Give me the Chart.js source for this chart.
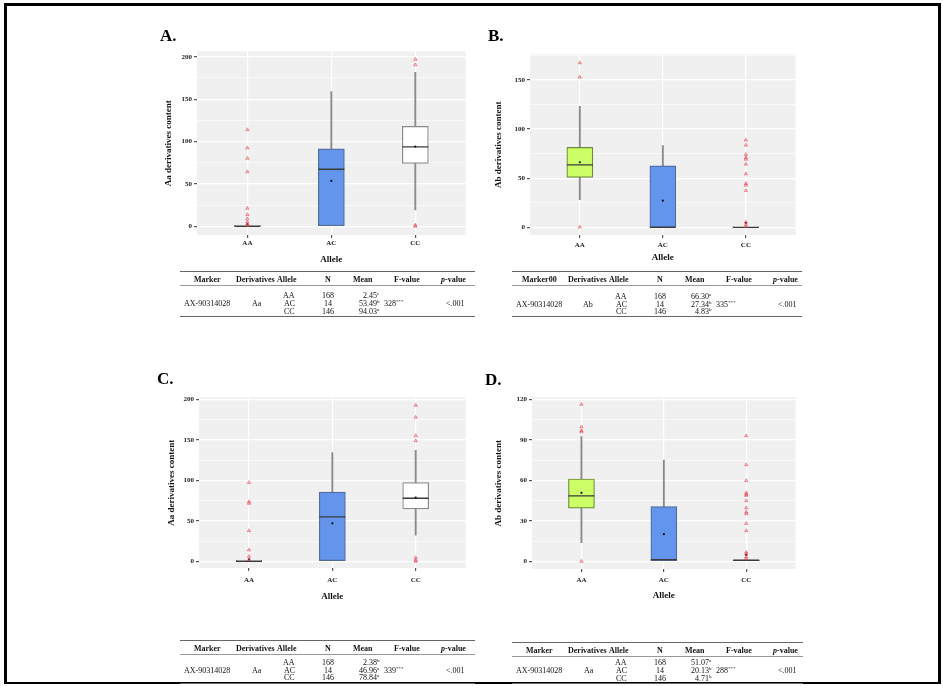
<!DOCTYPE html>
<html>
<head>
<meta charset="utf-8">
<script src="https://cdn.jsdelivr.net/npm/chart.js@4.4.1/dist/chart.umd.min.js"></script>
<style>
  body { margin: 0; background: #fff; font-family: "Liberation Serif", "Times New Roman", serif; }
  #page { position: relative; width: 943px; height: 686px; overflow: hidden; }
  #frame { position: absolute; left: 4px; top: 3px; width: 931px; height: 676px; border: 3px solid #000; border-bottom-width: 2px; }
  .wrap { position: absolute; }
  .letter { position: absolute; font-weight: bold; font-size: 17px; line-height: 17px; color: #000; }
  .cell { position: absolute; font-size: 8px; line-height: 8px; white-space: nowrap; color: #111; will-change: transform; }
  .cell sup { font-size: 5px; position: relative; top: -1px; vertical-align: top; line-height: 5px; }
  .hline { position: absolute; height: 0; border-top: 1px solid #777; }
</style>
</head>
<body>
<div id="page">
  <div id="frame"></div>
</div>
<script>
// categories
const alleles = ["AA", "AC", "CC"];
const nCount = ["168", "14", "146"];

// panel A : Aa derivatives
const aQ1 = [0, 0, 74.2];
const aMed = [0, 67.3, 93.6];
const aQ3 = [1, 91.3, 117.9];
const aLow = [0, 0, 19.4];
const aHigh = [1, 159, 181.8];
const aMean = [2.45, 53.49, 94.03];
const aOut = [[114, 92.4, 80.2, 64.3, 21.3, 13.7, 8.7, 5, 2.3, 1], [], [197, 190.5, 1.2, 0]];
const aTicks = [0, 25, 50, 75, 100, 125, 150, 175, 200];

// panel B : Ab derivatives
const bQ1 = [51, 0, 0];
const bMed = [63.7, 0.3, 0.3];
const bQ3 = [81.4, 62.7, 0.8];
const bLow = [28.4, 0, 0];
const bHigh = [123.1, 83.3, 0.8];
const bMean = [66.3, 27.34, 4.83];
const bOut = [[167.2, 152.6, 0.6], [], [88.8, 83.6, 74.1, 70.9, 69.3, 64.3, 54.5, 44.7, 43, 37.5, 5.5, 3.2, 1]];
const bTicks = [0, 25, 50, 75, 100, 125, 150, 175];

// panel C : Aa derivatives
const cQ1 = [0, 0, 64.8];
const cMed = [0, 54.9, 77.9];
const cQ3 = [1, 85.5, 97.4];
const cLow = [0, 0, 32.2];
const cHigh = [1, 134.4, 137.2];
const cMean = [2.38, 46.96, 78.84];
const cOut = [[97.4, 73.6, 71.6, 37.8, 14, 6, 2], [], [192.9, 178.1, 155.4, 149.1, 4.4, 1.2, 0]];
const cTicks = [0, 25, 50, 75, 100, 125, 150, 175, 200];

// panel D : Ab derivatives
const dQ1 = [39.4, 0, 0];
const dMed = [48.5, 1.2, 0.8];
const dQ3 = [61.1, 40.6, 1];
const dLow = [13.8, 0, 0];
const dHigh = [92.6, 75.2, 1];
const dMean = [50.8, 20.13, 4.71];
const dOut = [[116.5, 99.7, 96.9, 96.2, 0], [], [93.1, 71.6, 59.9, 50.8, 49.6, 48.9, 44.9, 39.6, 36.5, 35.3, 28.1, 22.7, 6.7, 5.5, 3.1, 1.9]];
const dTicks = [0, 15, 30, 45, 60, 75, 90, 105, 120];

// table texts
const tblHeadA = ["Marker", "Derivatives", "Allele", "N", "Mean", "F-value", "p-value"];
const tblHeadB = ["Marker00", "Derivatives", "Allele", "N", "Mean", "F-value", "p-value"];
const meansA = ["2.45", "53.49", "94.03"], supA = ["c", "b", "a"];
const meansB = ["66.30", "27.34", "4.83"], supB = ["a", "b", "b"];
const meansC = ["2.38", "46.96", "78.84"], supC = ["b", "a", "a"];
const meansD = ["51.07", "20.13", "4.71"], supD = ["a", "b", "b"];

const serif = "'Liberation Serif', 'Times New Roman', serif";
const page = document.getElementById("page");

const bgPlugin = {
  id: "panelBg",
  beforeDraw(chart) {
    const a = chart.chartArea, ctx = chart.ctx;
    ctx.save();
    ctx.fillStyle = "#f0f0f0";
    ctx.fillRect(a.left, a.top, a.right - a.left, a.bottom - a.top);
    ctx.restore();
  }
};

function makePanel(p) {
  const cl = p.area[0] - 50, ct = p.area[1] - 8, cr = p.area[2] + 2, cb = p.area[3] + 36;
  const wrap = document.createElement("div");
  wrap.className = "wrap";
  wrap.style.left = cl + "px"; wrap.style.top = ct + "px";
  const cv = document.createElement("canvas");
  cv.width = cr - cl; cv.height = cb - ct;
  cv.style.width = (cr - cl) + "px"; cv.style.height = (cb - ct) + "px";
  wrap.appendChild(cv);
  page.appendChild(wrap);

  const lt = document.createElement("div");
  lt.className = "letter";
  lt.textContent = p.letter;
  lt.style.left = p.letterPos[0] + "px"; lt.style.top = p.letterPos[1] + "px";
  page.appendChild(lt);

  const idx = [0, 1, 2];
  const outPts = [];
  p.out.forEach((arr, i) => arr.forEach(v => outPts.push({ x: i, y: v })));

  new Chart(cv, {
    type: "bar",
    data: {
      datasets: [
        { type: "bar", data: idx.map(i => ({ x: i, y: [p.low[i], p.high[i]] })), barThickness: 1.2,
          backgroundColor: "#8a8a8a", borderWidth: 0, grouped: false, order: 5 },
        { type: "bar", data: idx.map(i => ({ x: i, y: [p.q1[i], p.q3[i]] })), barThickness: 26,
          backgroundColor: p.fills, borderColor: p.edges, borderWidth: 1.2, borderSkipped: false,
          grouped: false, order: 4 },
        { type: "scatter", data: idx.map(i => ({ x: i, y: p.med[i] })), pointStyle: "line",
          radius: 13, borderColor: "#3a3a3a", borderWidth: 1.3, order: 3 },
        { type: "scatter", data: idx.map(i => ({ x: i, y: p.mean[i] })), pointStyle: "circle",
          radius: 1.1, backgroundColor: "#111", borderWidth: 0, order: 2 },
        { type: "scatter", data: outPts, pointStyle: "triangle", radius: 1.9,
          backgroundColor: "rgba(235,90,100,0.3)", borderColor: "rgba(225,60,75,0.72)", borderWidth: 0.7, order: 1 }
      ]
    },
    options: {
      responsive: false,
      animation: false,
      layout: { padding: { left: 0, top: p.area[1] - ct, right: cr - p.area[2], bottom: 0 } },
      plugins: { legend: { display: false }, tooltip: { enabled: false } },
      scales: {
        x: {
          type: "linear", min: -0.6, max: 2.6, offset: false,
          afterBuildTicks: s => { s.ticks = idx.map(v => ({ value: v })); },
          afterFit: s => { s.height = cb - p.area[3]; },
          ticks: { callback: v => alleles[v], font: { family: serif, size: 7, weight: "bold" }, color: "#222",
                   padding: p.xTickY - p.area[3] - 3 - 4.2, maxRotation: 0 },
          grid: { offset: false, color: "#ffffff", lineWidth: 1.2, tickLength: 3, tickColor: "#555" },
          border: { display: false },
          title: { display: true, text: "Allele", font: { family: serif, size: 9, weight: "bold" }, color: "#111",
                   padding: { top: 0, bottom: Math.max(0, cb - p.xTitleY - 5.4) } }
        },
        y: {
          min: p.yMin, max: p.yMax,
          afterBuildTicks: s => { s.ticks = p.ticks.map(v => ({ value: v })); },
          afterFit: s => { s.width = p.area[0] - cl; },
          ticks: { callback: v => (v % p.major === 0 ? v : ""), font: { family: serif, size: 7, weight: "bold" },
                   color: "#222", padding: 2 },
          grid: {
            color: "#ffffff",
            lineWidth: c => (c.tick && c.tick.value % p.major === 0 ? 1.2 : 0.6),
            tickLength: 3,
            tickColor: c => (c.tick && c.tick.value % p.major === 0 ? "#555" : "rgba(0,0,0,0)")
          },
          border: { display: false },
          title: { display: true, text: p.yTitle, font: { family: serif, size: 9, weight: "bold" }, color: "#111",
                   padding: { top: p.yTitleX - cl - 5.4, bottom: 0 } }
        }
      }
    },
    plugins: [bgPlugin]
  });
}

function cell(html, x, y, align, bold) {
  const d = document.createElement("div");
  d.className = "cell";
  d.innerHTML = html;
  if (bold) d.style.fontWeight = "bold";
  page.appendChild(d);
  const w = d.offsetWidth;
  d.style.left = (align === "right" ? x - w : x - w / 2) + "px";
  d.style.top = (y - 4) + "px";
  return d;
}

function hline(x, y, w, color) {
  const d = document.createElement("div");
  d.className = "hline";
  d.style.left = x + "px"; d.style.top = y + "px"; d.style.width = w + "px";
  if (color) d.style.borderTopColor = color;
  page.appendChild(d);
}

function makeTable(t) {
  const L = t.left, T = t.top;
  hline(L, T, t.width, "#666");
  hline(L, T + 14, t.width, "#999");
  hline(L, t.bottom, t.width, "#666");
  const hc = [27, 75, 107, 148, 183, 227, 273];
  t.head.forEach((h, i) => {
    const txt = h === "p-value" ? "<i>p</i>-value" : h;
    cell(txt, L + hc[i], T + 8.5, "center", true);
  });
  const ry = t.rows;
  cell("AX-90314028", L + 27, ry[1], "center");
  cell(t.deriv, L + 76, ry[1], "center");
  alleles.forEach((a, i) => {
    cell(a, L + 109, ry[i], "center");
    cell(nCount[i], L + 148, ry[i], "center");
    const m = cell(t.means[i], L + 197, ry[i], "right");
    const s = document.createElement("sup");
    s.textContent = t.sups[i];
    m.appendChild(s);
  });
  cell(t.fval + "<sup>***</sup>", L + 214, ry[1], "center");
  cell("&lt;.001", L + 275, ry[1], "center");
}

makePanel({ letter: "A.", letterPos: [160, 27], area: [197, 45, 478, 235], yMin: -10.3, yMax: 206.5,
  ticks: aTicks, major: 50, q1: aQ1, med: aMed, q3: aQ3, low: aLow, high: aHigh, mean: aMean, out: aOut,
  fills: ["#ffffff", "#6495ed", "#ffffff"], edges: ["#8a8a8a", "#4f6a9c", "#8a8a8a"],
  yTitle: "Aa derivatives content", yTitleX: 169, xTitleY: 260, xTickY: 243.3 });
makePanel({ letter: "B.", letterPos: [488, 27], area: [530, 48, 808, 235], yMin: -7.5, yMax: 175.8,
  ticks: bTicks, major: 50, q1: bQ1, med: bMed, q3: bQ3, low: bLow, high: bHigh, mean: bMean, out: bOut,
  fills: ["#ccff66", "#6495ed", "#ffffff"], edges: ["#6b8a3a", "#4f6a9c", "#555555"],
  yTitle: "Ab derivatives content", yTitleX: 499, xTitleY: 258, xTickY: 245 });
makePanel({ letter: "C.", letterPos: [157, 370], area: [199, 391, 478, 568], yMin: -8.35, yMax: 202.8,
  ticks: cTicks, major: 50, q1: cQ1, med: cMed, q3: cQ3, low: cLow, high: cHigh, mean: cMean, out: cOut,
  fills: ["#ffffff", "#6495ed", "#ffffff"], edges: ["#8a8a8a", "#4f6a9c", "#8a8a8a"],
  yTitle: "Aa derivatives content", yTitleX: 172, xTitleY: 597, xTickY: 580 });
makePanel({ letter: "D.", letterPos: [485, 371], area: [532, 391, 808, 569], yMin: -5.7, yMax: 121.7,
  ticks: dTicks, major: 30, q1: dQ1, med: dMed, q3: dQ3, low: dLow, high: dHigh, mean: dMean, out: dOut,
  fills: ["#ccff66", "#6495ed", "#ffffff"], edges: ["#6b8a3a", "#4f6a9c", "#555555"],
  yTitle: "Ab derivatives content", yTitleX: 499, xTitleY: 596, xTickY: 580 });

makeTable({ left: 180, top: 271, width: 295, bottom: 316, rows: [295.7, 304, 312], head: tblHeadA,
  deriv: "Aa", means: meansA, sups: supA, fval: "328" });
makeTable({ left: 512, top: 271, width: 290, bottom: 316, rows: [296.5, 304.5, 312], head: tblHeadB,
  deriv: "Ab", means: meansB, sups: supB, fval: "335" });
makeTable({ left: 180, top: 640, width: 295, bottom: 683, rows: [662.5, 670.5, 678.3], head: tblHeadA,
  deriv: "Aa", means: meansC, sups: supC, fval: "339" });
makeTable({ left: 512, top: 642, width: 291, bottom: 683, rows: [663, 671, 678.5], head: tblHeadA,
  deriv: "Aa", means: meansD, sups: supD, fval: "288" });
</script>
</body>
</html>
